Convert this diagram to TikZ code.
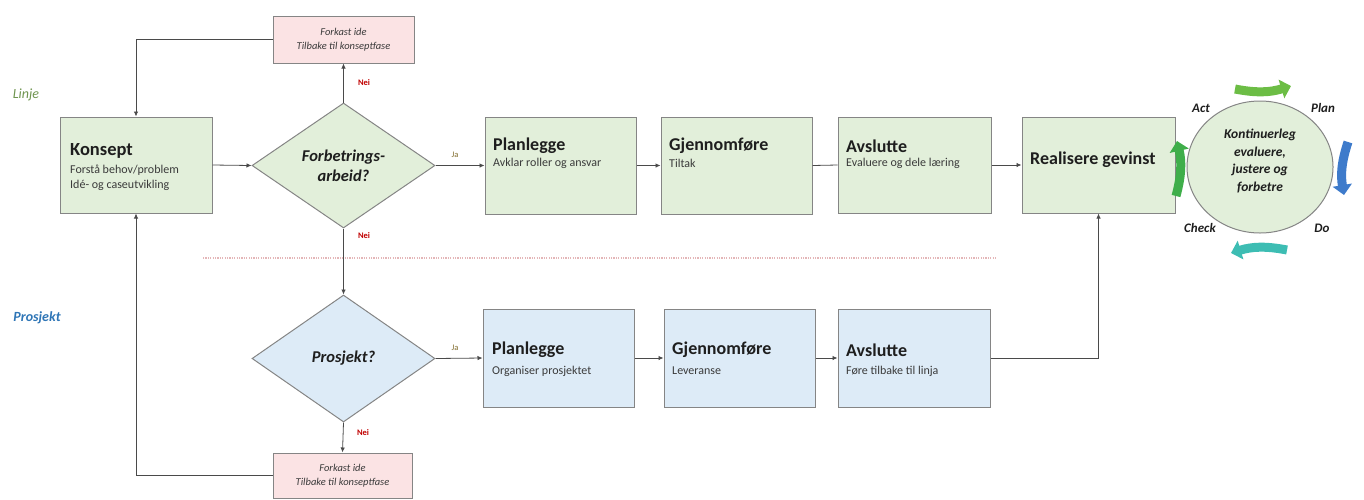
\documentclass[tikz,border=0pt]{standalone}
\usepackage{fontspec}
\setmainfont{Carlito}
\usetikzlibrary{shapes.geometric,arrows.meta}
\definecolor{gfill}{HTML}{E2EFDA}
\definecolor{bfill}{HTML}{DDEBF7}
\definecolor{pfill}{HTML}{FBE3E4}
\definecolor{bord}{HTML}{858585}
\definecolor{conncol}{HTML}{4A4A4A}
\definecolor{neired}{HTML}{C00000}
\definecolor{jacol}{HTML}{7F6A2A}
\definecolor{linjecol}{HTML}{6F9550}
\definecolor{prosjcol}{HTML}{2E75B6}
\definecolor{sepcol}{HTML}{E4B6B8}
\definecolor{pgreenT}{HTML}{6CBD45}
\definecolor{pgreenL}{HTML}{3FAE4A}
\definecolor{pblue}{HTML}{3E7BCB}
\definecolor{pteal}{HTML}{3DBDB3}
\definecolor{txt}{HTML}{1E1E1E}
\definecolor{subtxt}{HTML}{3A3A3A}
\begin{document}
\begin{tikzpicture}[x=1pt,y=-1pt,
  stepbox/.style={rectangle, draw=bord, line width=1pt, inner sep=0pt},
  gbox/.style={stepbox, fill=gfill},
  bbox/.style={stepbox, fill=bfill},
  pbox/.style={stepbox, fill=pfill, align=center, font=\fontsize{10.5}{14.5}\selectfont\itshape, text=subtxt},
  decision/.style={diamond, draw=bord, line width=1pt, inner sep=0pt, align=center, text=txt,
     font=\fontsize{16.5}{20}\selectfont\bfseries\itshape},
  ttl/.style={anchor=west, inner sep=0pt, text=txt, font=\fontsize{18}{20}\selectfont\bfseries},
  sub/.style={anchor=west, inner sep=0pt, text=subtxt, font=\fontsize{12}{15}\selectfont},
  conn/.style={draw=conncol, line width=0.8pt},
  arr/.style={conn, -{Latex[length=5pt,width=4.5pt]}},
  nei/.style={inner sep=0pt, text=neired, font=\fontsize{8.5}{10}\selectfont\bfseries},
  ja/.style={inner sep=0pt, text=jacol, font=\fontsize{8.5}{10}\selectfont},
  pdca/.style={inner sep=0pt, text=txt, font=\fontsize{13}{15}\selectfont\bfseries\itshape},
  cyc/.style={line width=9pt, -{Triangle[length=10pt,width=19pt]}}
]
\useasboundingbox (0,0) rectangle (1364,499);

% lane labels
\node[inner sep=0pt, text=linjecol, font=\fontsize{14}{16}\selectfont\itshape] (linje) at (26,95) {Linje};
\node[inner sep=0pt, text=prosjcol, font=\fontsize{14}{16}\selectfont\bfseries\itshape] (prosjlbl) at (37,318) {Prosjekt};

% separator
\coordinate (sepA) at (203,258);
\coordinate (sepB) at (997,258);
\draw[sepcol, line width=1.3pt, dash pattern=on 1.2pt off 1.2pt] (sepA) -- (sepB);

% boxes top row
\node[gbox, minimum width=152pt, minimum height=96pt] (konsept) at (136,165) {};
\node[gbox, minimum width=151pt, minimum height=97pt] (p1) at (560.5,165.5) {};
\node[gbox, minimum width=151pt, minimum height=97pt] (g1) at (736.5,165.5) {};
\node[gbox, minimum width=153pt, minimum height=96pt] (a1) at (914.5,165) {};
\node[gbox, minimum width=153pt, minimum height=96pt] (real) at (1098.5,165) {};

% boxes bottom row
\node[bbox, minimum width=151pt, minimum height=98pt] (p2) at (558.5,358) {};
\node[bbox, minimum width=151pt, minimum height=98pt] (g2) at (739.5,358) {};
\node[bbox, minimum width=152pt, minimum height=98pt] (a2) at (914,358) {};

% reject boxes
\node[pbox, minimum width=141pt, minimum height=47pt] (f1) at (343.5,39.5) {Forkast ide\\Tilbake til konseptfase};
\node[pbox, minimum width=139pt, minimum height=45pt] (f2) at (342.5,475.5) {Forkast ide\\Tilbake til konseptfase};

% decisions
\node[decision, fill=gfill, minimum width=183pt, minimum height=125pt] (d1) at (343.5,165.5) {Forbetrings-\\arbeid?};
\node[decision, fill=bfill, minimum width=183pt, minimum height=127pt] (d2) at (343.5,358.5) {Prosjekt?};

% texts in boxes
\node[ttl, font=\fontsize{18.5}{20}\selectfont\bfseries] (konseptT) at (70,151) {Konsept};
\node[sub] (konseptS1) at (70,170) {Forstå behov/problem};
\node[sub] (konseptS2) at (70,185) {Idé- og caseutvikling};

\node[ttl] (p1T) at (493,146) {Planlegge};
\node[sub] (p1S) at (493,163) {Avklar roller og ansvar};
\node[ttl] (g1T) at (669,146) {Gjennomføre};
\node[sub] (g1S) at (669,163) {Tiltak};
\node[ttl] (a1T) at (846,146) {Avslutte};
\node[sub] (a1S) at (846,163) {Evaluere og dele læring};
\node[ttl] (realT) at (1030,160) {Realisere gevinst};

\node[ttl] (p2T) at (492,350) {Planlegge};
\node[sub] (p2S) at (492,371) {Organiser prosjektet};
\node[ttl] (g2T) at (672,350) {Gjennomføre};
\node[sub] (g2S) at (672,371) {Leveranse};
\node[ttl] (a2T) at (846,350) {Avslutte};
\node[sub] (a2S) at (846,371) {Føre tilbake til linja};

% PDCA circle
\node[ellipse, draw=bord, fill=gfill, line width=1pt, inner sep=0pt,
      minimum width=146pt, minimum height=132pt] (cycle) at (1260,167) {};
\node[pdca, align=center, font=\fontsize{13.5}{17.6}\selectfont\bfseries\itshape] (cycleT) at (1260,161)
  {Kontinuerleg\\evaluere,\\justere og\\forbetre};
\node[pdca] (act) at (1201,108) {Act};
\node[pdca] (plan) at (1323,108) {Plan};
\node[pdca] (check) at (1200,228) {Check};
\node[pdca] (do) at (1322,228) {Do};

\coordinate (tA) at (1235,89);  \coordinate (tB) at (1291,86);
\coordinate (rA) at (1348,142); \coordinate (rB) at (1344,195);
\coordinate (bA) at (1287,250); \coordinate (bB) at (1231,253);
\coordinate (lA) at (1176,196); \coordinate (lB) at (1177,141);
\draw[cyc, pgreenT] (tA) to[bend right=14] (tB);
\draw[cyc, pblue] (rA) to[bend right=14] (rB);
\draw[cyc, pteal] (bA) to[bend right=14] (bB);
\draw[cyc, pgreenL] (lA) to[bend right=14] (lB);

% connectors
\draw[arr] (konsept.east) -- (d1.west);
\draw[arr] (d1.north) -- (f1.south);
\draw[arr] (f1.west) -| (konsept.north);
\draw[arr] (d1.east) -- (p1.west);
\draw[arr] (p1.east) -- (g1.west);
\draw[conn] (g1.east) -- (a1.west);
\draw[arr] (a1.east) -- (real.west);
\draw[arr] (d1.south) -- (d2.north);
\draw[arr] (d2.east) -- (p2.west);
\draw[arr] (p2.east) -- (g2.west);
\draw[arr] (g2.east) -- (a2.west);
\draw[arr] (d2.south) -- (f2.north);
\draw[arr] (f2.west) -| (konsept.south);
\draw[arr] (a2.east) -| (real.south);

% branch labels
\node[nei] (nei1) at (364,83) {Nei};
\node[nei] (nei2) at (364,236) {Nei};
\node[nei] (nei3) at (363,433) {Nei};
\node[ja] (ja1) at (455,155) {Ja};
\node[ja] (ja2) at (455,348) {Ja};
\end{tikzpicture}
\end{document}
